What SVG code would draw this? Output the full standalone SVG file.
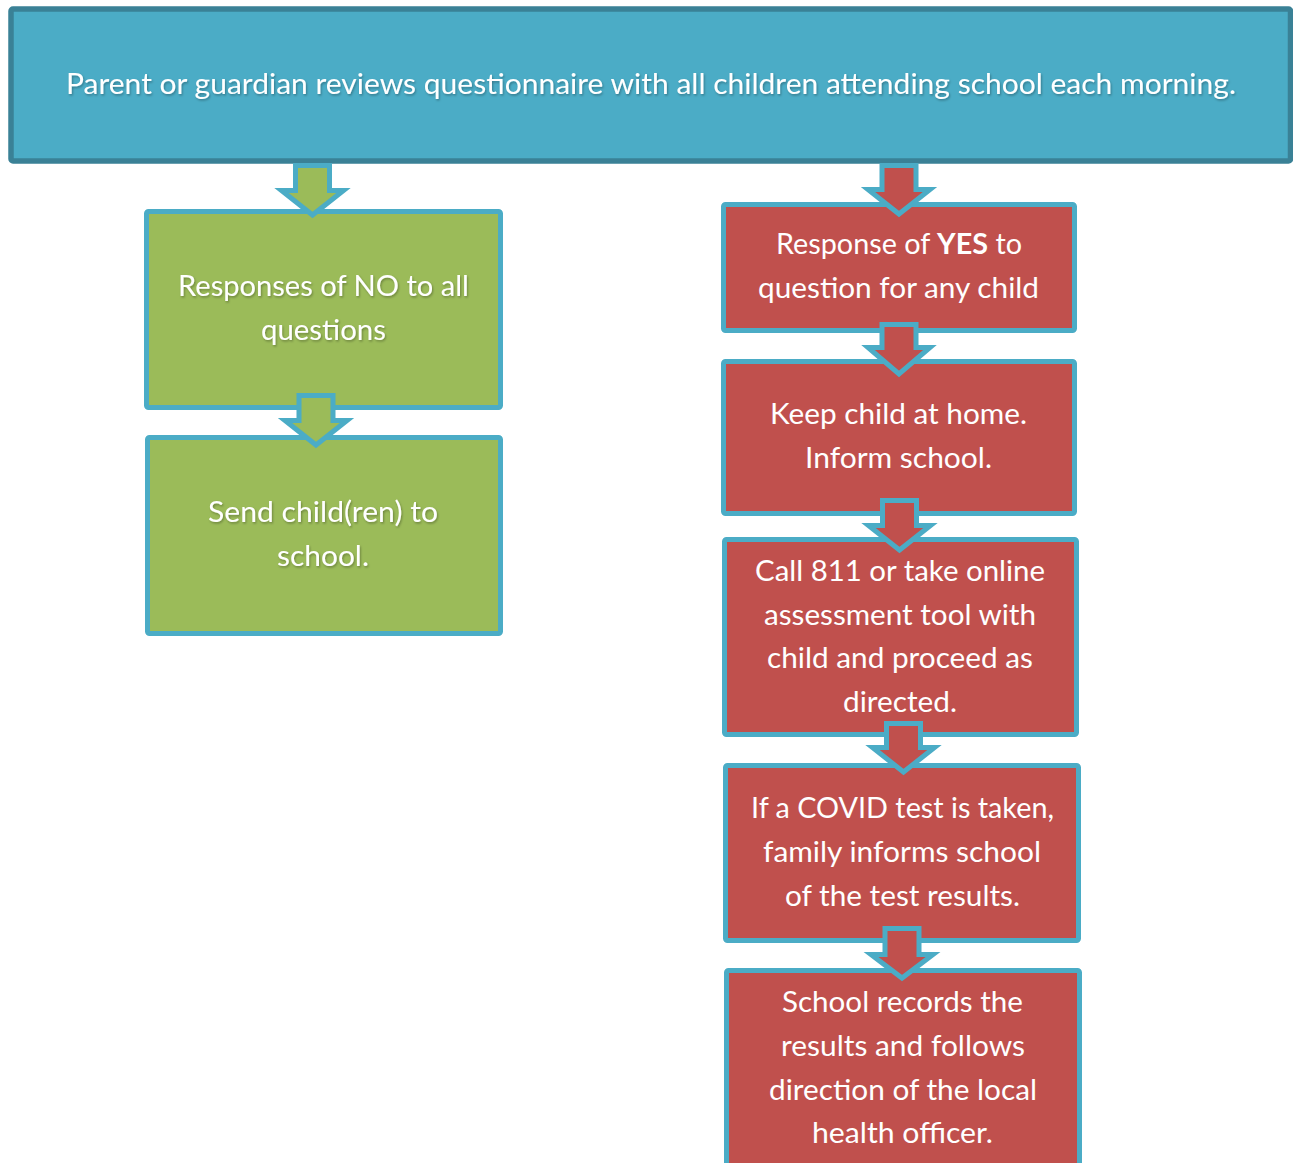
<svg xmlns="http://www.w3.org/2000/svg" width="1293" height="1163" viewBox="0 0 1293 1163">
<defs>
<filter id="tsh" x="-5%" y="-30%" width="110%" height="160%">
<feDropShadow dx="1" dy="1.5" stdDeviation="1" flood-color="#000" flood-opacity="0.3"/>
</filter>
<style>
.top{fill:#4BACC6;stroke:#3A8196;stroke-width:5.5}
.g{fill:#9BBB59;stroke:#4BACC6;stroke-width:5}
.r{fill:#C0504D;stroke:#4BACC6;stroke-width:5}
.ag{fill:#9BBB59;stroke:#4BACC6;stroke-width:5;stroke-linejoin:miter}
.ar{fill:#C0504D;stroke:#4BACC6;stroke-width:5;stroke-linejoin:miter}
.t{font-family:Lato,"Open Sans","Liberation Sans",sans-serif;font-size:28px;fill:#FFFFFF;text-anchor:middle}
.sh{filter:url(#tsh)}
</style>
</defs>
<rect width="1293" height="1163" fill="#FFFFFF"/>

<g id="node-top">
<rect class="top" x="11" y="9" width="1279.5" height="152" rx="2"/>
<text class="t sh" x="651" y="94" textLength="1170" lengthAdjust="spacingAndGlyphs">Parent or guardian reviews questionnaire with all children attending school each morning.</text>
</g>

<g id="node-no">
<rect class="g" x="146.5" y="211.5" width="354" height="196" rx="2"/>
<g class="t sh">
<text x="323.5" y="296" textLength="291" lengthAdjust="spacingAndGlyphs">Responses of NO to all</text>
<text x="323.5" y="340" textLength="125" lengthAdjust="spacingAndGlyphs">questions</text>
</g>
</g>

<g id="node-send">
<rect class="g" x="147.5" y="437.5" width="353" height="196" rx="2"/>
<g class="t sh">
<text x="323" y="522" textLength="230" lengthAdjust="spacingAndGlyphs">Send child(ren) to</text>
<text x="323" y="566" textLength="92" lengthAdjust="spacingAndGlyphs">school.</text>
</g>
</g>

<g id="node-yes">
<rect class="r" x="723.5" y="204.5" width="351" height="126" rx="2"/>
<g class="t">
<text x="899" y="254" textLength="246" lengthAdjust="spacingAndGlyphs">Response of <tspan font-weight="bold">YES</tspan> to</text>
<text x="898.5" y="298" textLength="281" lengthAdjust="spacingAndGlyphs">question for any child</text>
</g>
</g>

<g id="node-home">
<rect class="r" x="723.5" y="361.5" width="351" height="152" rx="2"/>
<g class="t">
<text x="898.5" y="424" textLength="257" lengthAdjust="spacingAndGlyphs">Keep child at home.</text>
<text x="898.5" y="468" textLength="187" lengthAdjust="spacingAndGlyphs">Inform school.</text>
</g>
</g>

<g id="node-call">
<rect class="r" x="724.5" y="539.5" width="352" height="195" rx="2"/>
<g class="t">
<text x="900" y="581" textLength="290" lengthAdjust="spacingAndGlyphs">Call 811 or take online</text>
<text x="900" y="625" textLength="272" lengthAdjust="spacingAndGlyphs">assessment tool with</text>
<text x="900" y="668" textLength="266" lengthAdjust="spacingAndGlyphs">child and proceed as</text>
<text x="900" y="712" textLength="114" lengthAdjust="spacingAndGlyphs">directed.</text>
</g>
</g>

<g id="node-test">
<rect class="r" x="725.5" y="765.5" width="353" height="175" rx="2"/>
<g class="t">
<text x="902.5" y="818" textLength="303" lengthAdjust="spacingAndGlyphs">If a COVID test is taken,</text>
<text x="902" y="862" textLength="278" lengthAdjust="spacingAndGlyphs">family informs school</text>
<text x="902.5" y="906" textLength="235" lengthAdjust="spacingAndGlyphs">of the test results.</text>
</g>
</g>

<g id="node-record">
<rect class="r" x="726.5" y="970.5" width="353" height="215" rx="2"/>
<g class="t">
<text x="902.5" y="1012" textLength="241" lengthAdjust="spacingAndGlyphs">School records the</text>
<text x="903" y="1056" textLength="244" lengthAdjust="spacingAndGlyphs">results and follows</text>
<text x="903" y="1100" textLength="268" lengthAdjust="spacingAndGlyphs">direction of the local</text>
<text x="902.5" y="1143" textLength="181" lengthAdjust="spacingAndGlyphs">health officer.</text>
</g>
</g>

<g id="connectors">
<path class="ag" d="M295.5,165.5 H329.5 V190.5 H343.5 L312.5,215 L281.5,190.5 H295.5 Z"/>
<path class="ag" d="M299,395.5 H333 V420.5 H347 L316,445 L285,420.5 H299 Z"/>
<path class="ar" d="M882,165.5 H916 V189.5 H930 L899,214 L868,189.5 H882 Z"/>
<path class="ar" d="M882,324.5 H916 V347.5 H930 L899,374 L868,347.5 H882 Z"/>
<path class="ar" d="M882.5,500.5 H916.5 V525.5 H930.5 L899.5,550 L868.5,525.5 H882.5 Z"/>
<path class="ar" d="M886.5,723.5 H920.5 V747.5 H934.5 L903.5,772 L872.5,747.5 H886.5 Z"/>
<path class="ar" d="M885,928.5 H919 V954.5 H933 L902,978 L871,954.5 H885 Z"/>
</g>
</svg>
